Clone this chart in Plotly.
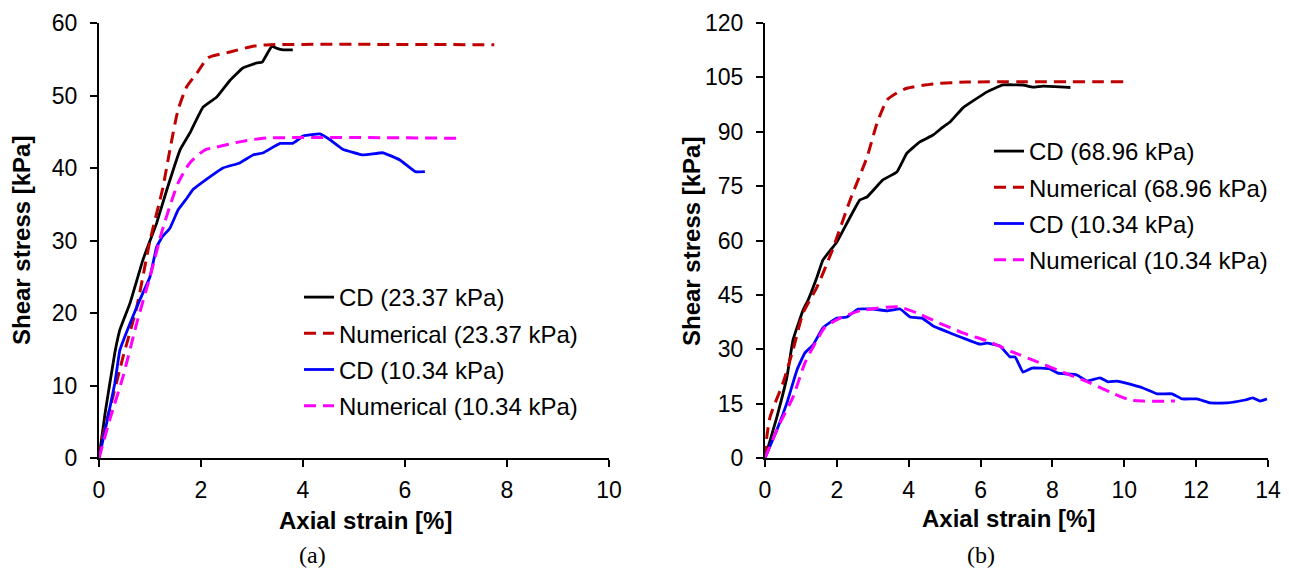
import plotly.graph_objects as go

# ---------------- Panel (a) data ----------------
cd23_x = [0, 0.12, 0.31, 0.41, 0.61, 0.86, 1.13, 1.33, 1.59, 1.78, 2.04, 2.31, 2.57, 2.82, 3.1, 3.2, 3.39, 3.49, 3.61, 3.8]
cd23_y = [0, 6.2, 14.5, 17.7, 21.4, 27.3, 32.4, 37.0, 42.5, 44.8, 48.4, 49.8, 52.1, 53.8, 54.5, 54.6, 56.8, 56.5, 56.3, 56.3]

num23_x = [0, 0.02, 0.22, 0.47, 0.74, 1.0, 1.25, 1.39, 1.55, 1.72, 1.92, 2.14, 2.57, 3.02, 3.35, 7.75]
num23_y = [0, 1.5, 7.0, 13.9, 20.8, 30.0, 37.2, 42.5, 48.0, 51.2, 53.1, 55.2, 56.0, 56.8, 57.0, 57.0]

cd10a_x = [0, 0.15, 0.31, 0.41, 0.61, 0.8, 1.0, 1.13, 1.24, 1.39, 1.55, 1.72, 1.84, 2.18, 2.43, 2.76, 3.02, 3.22,
           3.55, 3.8, 4.0, 4.33, 4.53, 4.78, 5.18, 5.57, 5.9, 6.2, 6.39]
cd10a_y = [0, 4.8, 10.3, 14.9, 18.6, 21.8, 25.0, 29.1, 30.5, 31.7, 34.2, 35.8, 37.0, 38.8, 40.0, 40.7, 41.8, 42.1,
           43.4, 43.4, 44.4, 44.7, 43.9, 42.6, 41.8, 42.1, 41.1, 39.5, 39.5]

num10a_x = [0, 0.22, 0.47, 0.74, 1.0, 1.24, 1.43, 1.55, 1.78, 2.08, 2.31, 2.76, 3.22, 7.08]
num10a_y = [0, 5.5, 11.2, 18.6, 25.0, 31.4, 35.6, 37.9, 40.7, 42.5, 42.9, 43.6, 44.1, 44.1]

# ---------------- Panel (b) data ----------------
cd69_x = [0, 0.33, 0.61, 0.78, 1.06, 1.2, 1.45, 1.61, 2.0, 2.64, 2.84, 3.28, 3.67, 3.95, 4.31, 4.68, 4.95, 5.15,
          5.51, 6.18, 6.62, 7.18, 7.46, 7.74, 8.5]
cd69_y = [0, 11.3, 22.3, 32.6, 40.8, 43.6, 50.0, 54.6, 59.6, 71.2, 72.0, 76.7, 78.9, 84.1, 87.2, 89.1, 91.3, 92.7,
          96.6, 101.0, 102.9, 102.9, 102.3, 102.6, 102.2]

num69_x = [0, 0.05, 0.14, 0.5, 0.78, 1.06, 1.45, 1.86, 2.37, 2.84, 3.12, 3.4, 3.67, 3.95, 4.68, 5.62, 10.0]
num69_y = [0, 5.8, 11.3, 20.7, 29.8, 40.0, 47.2, 57.0, 71.2, 83.0, 92.4, 98.8, 100.7, 102.0, 103.2, 103.7, 103.8]

cd10b_x = [0, 0.33, 0.61, 0.89, 1.11, 1.34, 1.61, 2.0, 2.28, 2.59, 3.01, 3.4, 3.76, 4.04, 4.37, 4.68, 5.15, 5.51,
           5.98, 6.18, 6.54, 6.82, 6.96, 7.18, 7.43, 7.93, 8.15, 8.68, 8.96, 9.32, 9.55, 9.8, 10.02, 10.52, 10.91,
           11.33, 11.61, 12.02, 12.39, 12.86, 13.36, 13.58, 13.78, 13.97]
cd10b_y = [0, 7.7, 15.2, 24.3, 29.0, 31.2, 35.9, 38.6, 38.9, 41.1, 41.1, 40.6, 41.1, 38.9, 38.6, 36.4, 34.5, 33.1,
           31.4, 31.7, 30.9, 27.9, 27.9, 23.7, 24.8, 24.6, 23.4, 22.9, 21.2, 22.1, 21.0, 21.2, 20.7, 19.3, 17.7,
           17.7, 16.3, 16.3, 15.2, 15.2, 16.0, 16.6, 15.7, 16.3]

num10b_x = [0, 0.42, 0.78, 1.11, 1.45, 1.67, 2.09, 2.64, 3.7, 4.23, 4.79, 5.51, 6.26, 6.9, 7.46, 8.41, 9.05, 9.6,
            10.16, 10.52, 11.41]
num10b_y = [0, 9.7, 16.8, 26.2, 32.6, 36.1, 38.6, 40.6, 41.7, 40.0, 37.5, 34.5, 32.0, 29.2, 27.0, 23.2, 20.7, 18.2,
            16.0, 15.7, 15.7]

x_ticks_a = [0, 2, 4, 6, 8, 10]
y_ticks_a = [0, 10, 20, 30, 40, 50, 60]
x_ticks_b = [0, 2, 4, 6, 8, 10, 12, 14]
y_ticks_b = [0, 15, 30, 45, 60, 75, 90, 105, 120]

BLACK = "#000000"
RED = "#C00000"
BLUE = "#0000FF"
MAGENTA = "#FF00FF"
DASH = "12px,7px"
FONT = "Liberation Sans, Arial, sans-serif"
SERIF = "Liberation Serif, Times New Roman, serif"

fig = go.Figure()

def add(x, y, name, color, dash, xa, ya, legend, grp, smooth):
    fig.add_trace(go.Scatter(
        x=x, y=y, name=name, mode="lines",
        line=dict(color=color, width=3 if dash else 2.8, dash=dash,
                  shape="spline", smoothing=smooth),
        xaxis=xa, yaxis=ya, legend=legend, legendgroup=grp,
    ))

add(cd23_x, cd23_y, "CD (23.37 kPa)", BLACK, None, "x", "y", "legend", "a1", 0.3)
add(num23_x, num23_y, "Numerical (23.37 kPa)", RED, DASH, "x", "y", "legend", "a2", 0.6)
add(cd10a_x, cd10a_y, "CD (10.34 kPa)", BLUE, None, "x", "y", "legend", "a3", 0.3)
add(num10a_x, num10a_y, "Numerical (10.34 kPa)", MAGENTA, DASH, "x", "y", "legend", "a4", 0.6)

add(cd69_x, cd69_y, "CD (68.96 kPa)", BLACK, None, "x2", "y2", "legend2", "b1", 0.3)
add(num69_x, num69_y, "Numerical (68.96 kPa)", RED, DASH, "x2", "y2", "legend2", "b2", 0.6)
add(cd10b_x, cd10b_y, "CD (10.34 kPa)", BLUE, None, "x2", "y2", "legend2", "b3", 0.3)
add(num10b_x, num10b_y, "Numerical (10.34 kPa)", MAGENTA, DASH, "x2", "y2", "legend2", "b4", 0.6)

# The page body has an 8 px margin, so the figure is drawn 8 px smaller and
# positions (given in window pixels) are offset by that margin.
OFF = 8
W, H = 1289 - OFF, 571 - OFF

def px_x(p):
    return (p - OFF) / W

def px_y(p):
    return (H - (p - OFF)) / H

axis_common = dict(
    showline=True, linecolor="black", linewidth=2,
    ticks="outside", ticklen=7, tickwidth=2, tickcolor="black",
    showgrid=False, zeroline=False, automargin=False,
    tickfont=dict(family=FONT, size=23, color="black"),
)

fig.update_layout(
    width=W, height=H,
    margin=dict(l=0, r=0, t=0, b=0, autoexpand=False),
    paper_bgcolor="white", plot_bgcolor="white",
    font=dict(family=FONT, color="black"),
    xaxis=dict(domain=[px_x(99), px_x(609)], range=[0, 10], tickvals=x_ticks_a, anchor="y",
               ticklabelstandoff=3, **axis_common),
    yaxis=dict(domain=[px_y(458), px_y(23)], range=[0, 60], tickvals=y_ticks_a, anchor="x",
               ticklabelstandoff=8, **axis_common),
    xaxis2=dict(domain=[px_x(765), px_x(1268)], range=[0, 14], tickvals=x_ticks_b, anchor="y2",
                ticklabelstandoff=3, **axis_common),
    yaxis2=dict(domain=[px_y(458), px_y(23)], range=[0, 120], tickvals=y_ticks_b, anchor="x2",
                ticklabelstandoff=8, **axis_common),
    legend=dict(x=px_x(299), y=px_y(275), xanchor="left", yanchor="top",
                font=dict(family=FONT, size=24, color="black"),
                bgcolor="rgba(0,0,0,0)", tracegroupgap=2, traceorder="grouped"),
    legend2=dict(x=px_x(989), y=px_y(129), xanchor="left", yanchor="top",
                 font=dict(family=FONT, size=24, color="black"),
                 bgcolor="rgba(0,0,0,0)", tracegroupgap=2, traceorder="grouped"),
    showlegend=True,
)

title_font = dict(family=FONT, size=24, color="black")
ann = [
    dict(text="<b>Shear stress [kPa]</b>", x=px_x(22), y=px_y(241), textangle=-90, font=title_font),
    dict(text="<b>Shear stress [kPa]</b>", x=px_x(691), y=px_y(242), textangle=-90, font=title_font),
    dict(text="<b>Axial strain [%]</b>", x=px_x(366), y=px_y(520), font=title_font),
    dict(text="<b>Axial strain [%]</b>", x=px_x(1008), y=px_y(518), font=title_font),
    dict(text="(a)", x=px_x(312), y=px_y(555), font=dict(family=SERIF, size=24, color="black")),
    dict(text="(b)", x=px_x(981), y=px_y(555), font=dict(family=SERIF, size=24, color="black")),
]
for a in ann:
    a.update(xref="paper", yref="paper", showarrow=False, xanchor="center", yanchor="middle")
    fig.add_annotation(**a)

fig.write_html("out.html")
